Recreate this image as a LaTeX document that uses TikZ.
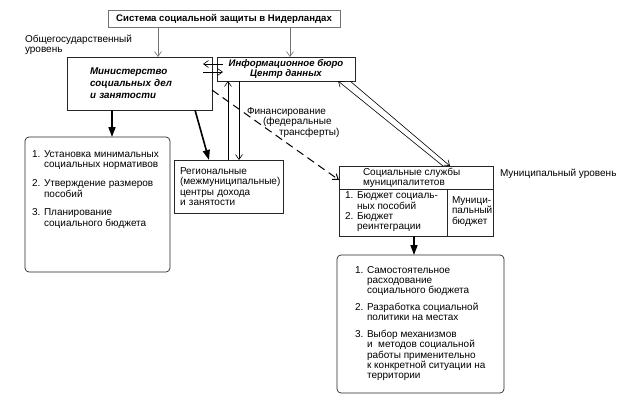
\documentclass[tikz,border=0pt]{standalone}
\usepackage{fontspec}
\setmainfont{Liberation Sans}
\usetikzlibrary{arrows.meta,positioning,calc}

\begin{document}
\begin{tikzpicture}
	[x=1pt,y=-1pt,
	every node/.style={inner sep=0,outer sep=0,font=\fontsize{10}{10.3}\selectfont},
	box/.style={draw=black!85,line width=0.7pt},
	listbox/.style={draw=black!85,line width=0.7pt,rounded corners=4pt},
	head/.style={font=\fontsize{9.8}{12}\selectfont\bfseries\itshape},
	link/.style={-{Straight Barb[length=5pt,width=7pt]},line width=0.6pt},
	greylink/.style={link,draw=black!55},
	strong/.style={-{Triangle[length=10pt,width=7pt]},line width=1.6pt},
	budget/.style={dash pattern=on 8pt off 5pt,line width=1pt}]
	\useasboundingbox (0,0) rectangle (625,410);
	% boxes
	\node (sys) [draw=black!55,line width=0.7pt,minimum width=232pt,minimum height=17pt,anchor=north west,font=\fontsize{9.6}{10.3}\selectfont\bfseries] at (108,10) {Система социальной защиты в Нидерландах};
	\node (minist) [box,head,anchor=north west,minimum height=53pt,text width=99pt,inner xsep=23pt,align=left] at (67,57) {Министерство\\социальных дел\\и занятости};
	\node (info) [box,head,anchor=north west,minimum width=138pt,minimum height=24pt,align=center,font=\fontsize{9.6}{10}\selectfont\bfseries\itshape] at (217,57) {Информационное бюро\\Центр данных};
	\node (regional) [box,anchor=north west,minimum height=53pt,text width=97pt,inner xsep=6pt,align=left] at (174,160) {Региональные\\(межмуниципальные)\\центры дохода\\и занятости};
	\node (tasks) [listbox,anchor=north west,minimum width=145pt,minimum height=135pt] at (25,137) {};
	\node (social) [box,anchor=north west,minimum width=154pt,minimum height=70pt] at (339,166) {};
	\node (results) [listbox,anchor=north west,minimum width=167pt,minimum height=138pt] at (337,255) {};
	\draw [line width=0.7pt,draw=black!85] ([shift={(0,23)}]social.north west) -- ([shift={(0,23)}]social.north east);
	\draw [line width=0.7pt,draw=black!85] ([shift={(108,23)}]social.north west) -- ([shift={(108,0)}]social.south west);
	% texts
	\node [anchor=west,align=left] at (25,44.5) {Общегосударственный\\уровень};
	\node [anchor=west,align=left] at ([shift={(30,41.5)}]info.south west) {Финансирование\\\hspace*{1.6em}(федеральные\\\hspace*{3.2em}трансферты)};
	\node [anchor=west,align=left] at ([shift={(7,52.5)}]tasks.north west) {1. Установка минимальных\\\phantom{1. }социальных нормативов\\[8.5pt]2. Утверждение размеров\\\phantom{1. }пособий\\[8.5pt]3. Планирование\\\phantom{1. }социального бюджета};
	\node [anchor=west,align=left] at ([shift={(24,12)}]social.north west) {Социальные службы\\муниципалитетов};
	\node [anchor=west,align=left] at ([shift={(6,46)}]social.north west) {1. Бюджет социаль-\\\phantom{1. }ных пособий\\2. Бюджет\\\phantom{1. }реинтеграции};
	\node [anchor=west,align=left] at ([shift={(113,45.5)}]social.north west) {Муници-\\пальный\\бюджет};
	\node [anchor=west] at ([shift={(7,8)}]social.north east) {Муниципальный уровень};
	\node [anchor=west,align=left] at ([shift={(18,68.5)}]results.north west) {1. Самостоятельное\\\phantom{1. }расходование\\\phantom{1. }социального бюджета\\[6.5pt]2. Разработка социальной\\\phantom{1. }политики на местах\\[6.5pt]3. Выбор механизмов\\\phantom{1. }и \ методов социальной\\\phantom{1. }работы применительно\\\phantom{1. }к конкретной ситуации на\\\phantom{1. }территории};
	% connectors
	\draw [greylink] ([xshift=50pt]sys.south west) -- ([xshift=50pt]sys.south west |- minist.north);
	\draw [greylink] ([xshift=-50pt]sys.south east) -- ([xshift=-50pt]sys.south east |- info.north);
	\draw [link] ([shift={(6,7)}]info.north west) -- ([shift={(-9,7)}]minist.north east);
	\draw [link] ([shift={(-9,15)}]minist.north east) -- ([shift={(6,15)}]info.north west);
	\draw [link] ([shift={(54,0)}]regional.north west) -- ([shift={(54,0)}]regional.north west |- info.south);
	\draw [link] ([shift={(65,0)}]regional.north west |- info.south) -- ([shift={(65,0)}]regional.north west);
	\draw [strong] ([shift={(-17,0)}]minist.south east) -- ([shift={(35,0)}]regional.north west);
	\draw [strong] ([shift={(45,0)}]minist.south west) -- ([shift={(45,0)}]minist.south west |- tasks.north);
	\draw [link,budget] ([shift={(0,33)}]minist.north east) -- ([shift={(0,14)}]social.north west);
	\draw [link] ([shift={(104,0)}]social.north west) -- ([shift={(-17,0)}]info.south east);
	\draw [link] ([shift={(-5,0)}]info.south east) -- ([shift={(111,0)}]social.north west);
	\draw [strong] ([shift={(75,0)}]social.south west) -- ([shift={(75,0)}]social.south west |- results.north);
\end{tikzpicture}
\end{document}
